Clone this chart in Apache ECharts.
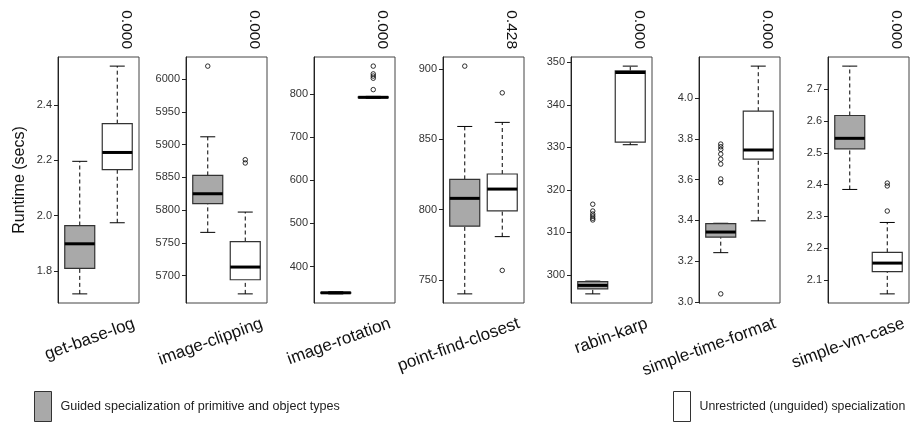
<!DOCTYPE html>
<html><head><meta charset="utf-8">
<script src="https://cdn.jsdelivr.net/npm/echarts@6/dist/echarts.min.js"></script>
<style>html,body{margin:0;padding:0;background:#fff}#c{width:912px;height:432px}</style>
</head><body><div id="c"></div>
<script>
const benchmarks = ['get-base-log','image-clipping','image-rotation','point-find-closest','rabin-karp','simple-time-format','simple-vm-case'];
const pValues = ['0.000','0.000','0.000','0.428','0.000','0.000','0.000'];
const seriesNames = ['Guided specialization of primitive and object types','Unrestricted (unguided) specialization'];
// [lower whisker, Q1, median, Q3, upper whisker]
const guidedBoxes = [
  [1.717, 1.809, 1.898, 1.964, 2.196],
  [5766, 5810, 5825, 5853, 5912],
  [337, 338.6, 339.5, 340.4, 342],
  [740, 788.1, 807.9, 821.4, 859],
  [295.5, 296.7, 297.5, 298.4, 298.5],
  [3.242, 3.318, 3.343, 3.384, 3.386],
  [2.385, 2.513, 2.546, 2.618, 2.7735]
];
const unguidedBoxes = [
  [1.974, 2.166, 2.228, 2.332, 2.54],
  [5672, 5693.6, 5713, 5752, 5797],
  [789.5, 790.8, 791.8, 792.8, 794],
  [780.7, 799, 814.5, 825.2, 861.9],
  [330.6, 331.2, 347.6, 348.0, 349.1],
  [3.398, 3.70, 3.745, 3.935, 4.156],
  [2.056, 2.126, 2.153, 2.187, 2.281]
];
const guidedOutliers = [
  [], [6020], [], [901.9], [316.6, 315.0, 314.3, 313.8, 313.3, 312.9],
  [3.774, 3.761, 3.748, 3.725, 3.70, 3.676, 3.603, 3.585, 3.04], []
];
const unguidedOutliers = [
  [], [5877, 5872], [864, 846, 841, 836, 809.6], [882.9, 756.7], [], [], [2.405, 2.396, 2.317]
];
const yTicks = [
  [1.8, 2.0, 2.2, 2.4],
  [5700, 5750, 5800, 5850, 5900, 5950, 6000],
  [400, 500, 600, 700, 800],
  [750, 800, 850, 900],
  [300, 310, 320, 330, 340, 350],
  [3.0, 3.2, 3.4, 3.6, 3.8, 4.0],
  [2.1, 2.2, 2.3, 2.4, 2.5, 2.6, 2.7]
];
const yDecimals = [1, 0, 0, 0, 0, 1, 1];

const FONT = '"Liberation Sans", Arial, Helvetica, sans-serif';
const GRAY = '#a9a9a9';
const N = benchmarks.length;

function makeRender(fill) {
  return function (params, api) {
    const x = api.value(0);
    const p = [1, 2, 3, 4, 5].map(k => api.coord([x, api.value(k)]));
    const cx = p[0][0];
    const half = api.size([0.8, 0])[0] / 2;
    const cap = half / 2;
    const dash = { stroke: '#000', lineWidth: 1, lineDash: [4, 3] };
    const solid = { stroke: '#000', lineWidth: 1 };
    return { type: 'group', children: [
      { type: 'line', shape: { x1: cx, y1: p[0][1], x2: cx, y2: p[1][1] }, style: dash },
      { type: 'line', shape: { x1: cx, y1: p[3][1], x2: cx, y2: p[4][1] }, style: dash },
      { type: 'line', shape: { x1: cx - cap, y1: p[0][1], x2: cx + cap, y2: p[0][1] }, style: solid },
      { type: 'line', shape: { x1: cx - cap, y1: p[4][1], x2: cx + cap, y2: p[4][1] }, style: solid },
      { type: 'rect', shape: { x: cx - half, y: p[3][1], width: 2 * half, height: p[1][1] - p[3][1] },
        style: { fill: fill, stroke: '#333', lineWidth: 1.2 } },
      { type: 'line', shape: { x1: cx - half, y1: p[2][1], x2: cx + half, y2: p[2][1] },
        style: { stroke: '#000', lineWidth: 3 } }
    ] };
  };
}

const grids = [], xAxes = [], yAxes = [], series = [];
for (let i = 0; i < N; i++) {
  grids.push({ left: Math.round(57.5 + i * 128.35), top: 57, width: 81, height: 246,
    show: true, borderColor: '#444', borderWidth: 1, backgroundColor: 'rgba(0,0,0,0)',
    containLabel: false, outerBoundsMode: 'none' });
}
for (let i = 0; i < N; i++) {
  xAxes.push({ gridIndex: i, type: 'value', min: 0.42, max: 2.58, position: 'bottom',
    axisLine: { show: false }, axisTick: { show: false }, splitLine: { show: false },
    axisLabel: { customValues: [2.45], rotate: 20, margin: 20, fontSize: 17, color: '#111',
      fontFamily: FONT, formatter: () => benchmarks[i] } });
}
for (let i = 0; i < N; i++) {
  xAxes.push({ gridIndex: i, type: 'value', min: 0.42, max: 2.58, position: 'top',
    axisLine: { show: false }, axisTick: { show: false }, splitLine: { show: false },
    axisLabel: { customValues: [2.25], rotate: 90, margin: 8, fontSize: 15.5, color: '#111',
      fontFamily: FONT, formatter: () => pValues[i] } });
}
for (let i = 0; i < N; i++) {
  const all = guidedBoxes[i].concat(unguidedBoxes[i], guidedOutliers[i], unguidedOutliers[i]);
  const lo = Math.min.apply(null, all), hi = Math.max.apply(null, all);
  const ext = (hi - lo) * 0.04;
  const y = { gridIndex: i, type: 'value', min: lo - ext, max: hi + ext,
    axisLine: { show: true, lineStyle: { color: '#222', width: 1 } },
    axisTick: { show: true, customValues: yTicks[i], length: 4, lineStyle: { color: '#222' } },
    axisLabel: { customValues: yTicks[i], fontSize: 11, color: '#333', margin: 6, fontFamily: FONT,
      formatter: v => Number(v).toFixed(yDecimals[i]) },
    splitLine: { show: false } };
  if (i === 0) {
    y.name = 'Runtime (secs)';
    y.nameLocation = 'middle';
    y.nameGap = 30;
    y.nameTextStyle = { fontSize: 16, color: '#111', fontFamily: FONT };
  }
  yAxes.push(y);
}
for (let i = 0; i < N; i++) {
  series.push({ name: seriesNames[0], type: 'custom', xAxisIndex: i, yAxisIndex: i,
    renderItem: makeRender(GRAY), itemStyle: { color: GRAY },
    encode: { x: 0, y: [1, 2, 3, 4, 5] }, data: [[1].concat(guidedBoxes[i])], silent: true, z: 2 });
  series.push({ name: seriesNames[1], type: 'custom', xAxisIndex: i, yAxisIndex: i,
    renderItem: makeRender('#fff'), itemStyle: { color: '#fff' },
    encode: { x: 0, y: [1, 2, 3, 4, 5] }, data: [[2].concat(unguidedBoxes[i])], silent: true, z: 2 });
  series.push({ type: 'scatter', xAxisIndex: i, yAxisIndex: i, symbol: 'circle', symbolSize: 4.5,
    itemStyle: { color: 'rgba(0,0,0,0)', borderColor: '#000', borderWidth: 1 },
    data: guidedOutliers[i].map(v => [1, v]), silent: true, z: 3 });
  series.push({ type: 'scatter', xAxisIndex: i, yAxisIndex: i, symbol: 'circle', symbolSize: 4.5,
    itemStyle: { color: 'rgba(0,0,0,0)', borderColor: '#000', borderWidth: 1 },
    data: unguidedOutliers[i].map(v => [2, v]), silent: true, z: 3 });
}
const legendBase = { orient: 'horizontal', top: 391, padding: 0, itemWidth: 17, itemHeight: 30,
  icon: 'rect', selectedMode: false,
  textStyle: { fontSize: 12.6, color: '#222', fontFamily: FONT, padding: [0, 0, 0, 4] } };
const legends = [
  Object.assign({}, legendBase, { left: 34, data: [{ name: seriesNames[0], itemStyle: { color: GRAY, borderColor: '#333', borderWidth: 1 } }] }),
  Object.assign({}, legendBase, { left: 673, textStyle: Object.assign({}, legendBase.textStyle, { fontSize: 12.3 }),
    data: [{ name: seriesNames[1], itemStyle: { color: '#fff', borderColor: '#333', borderWidth: 1 } }] })
];
const chart = echarts.init(document.getElementById('c'), null, { renderer: 'canvas' });
chart.setOption({ animation: false, backgroundColor: '#fff', grid: grids, xAxis: xAxes, yAxis: yAxes,
  legend: legends, series: series });
</script></body></html>
